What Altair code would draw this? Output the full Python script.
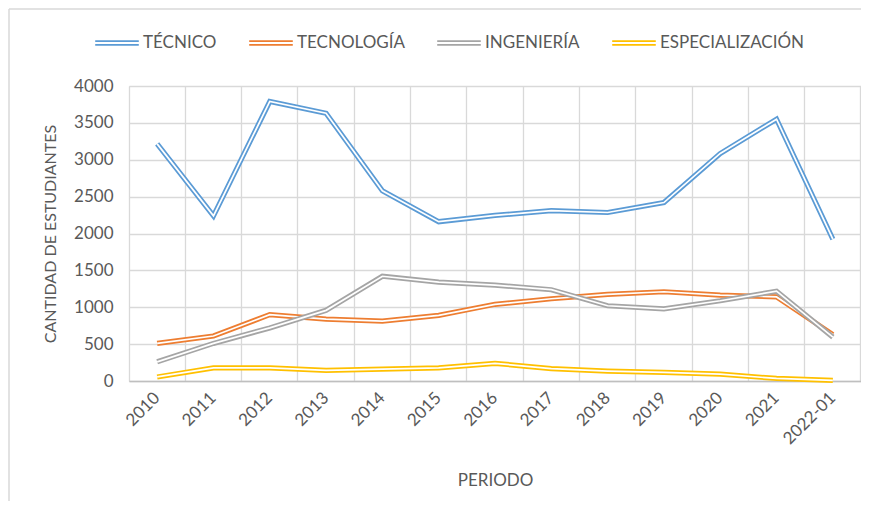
import altair as alt
import pandas as pd

periodos = ["2010", "2011", "2012", "2013", "2014", "2015", "2016",
            "2017", "2018", "2019", "2020", "2021", "2022-01"]
series = ["TÉCNICO", "TECNOLOGÍA", "INGENIERÍA", "ESPECIALIZACIÓN"]
colores = ["#5B9BD5", "#ED7D31", "#A5A5A5", "#FFC000"]

tecnico = [3215, 2240, 3790, 3630, 2580, 2160, 2245, 2310, 2285, 2420, 3085, 3550, 1925]
tecnologia = [510, 610, 900, 840, 812, 890, 1040, 1115, 1175, 1210, 1165, 1140, 630]
ingenieria = [260, 510, 720, 958, 1420, 1340, 1300, 1238, 1020, 978, 1088, 1218, 595]
especializacion = [55, 178, 178, 145, 160, 178, 240, 168, 135, 118, 92, 35, 8]

valores = [tecnico, tecnologia, ingenieria, especializacion]

rows = []
for s, vals in zip(series, valores):
    for p, v in zip(periodos, vals):
        rows.append({"periodo": p, "serie": s, "valor": v})
df = pd.DataFrame(rows)

W, H = 732, 295
FONT = "Lato"
TXT = "#595959"

x_enc = alt.X(
    "periodo:O",
    sort=periodos,
    scale=alt.Scale(type="band", domain=periodos, paddingInner=0, paddingOuter=0),
    axis=alt.Axis(
        title="PERIODO",
        labelAngle=-45,
        labelAlign="right",
        labelBaseline="middle",
        labelPadding=14,
        labelFontSize=17,
        labelColor=TXT,
        labelFont=FONT,
        ticks=False,
        bandPosition=1,
        tickExtra=True,
        grid=True,
        gridColor="#d9d9d9",
        gridWidth=1.3,
        domainColor="#bfbfbf",
        domainWidth=1.5,
        titleFont=FONT,
        titleFontSize=17,
        titleFontWeight="normal",
        titleColor=TXT,
        titleX=W / 2,
        titleY=99,
        titleAnchor="middle",
        titleBaseline="middle",
        labelOverlap=False,
    ),
)
y_enc = alt.Y(
    "valor:Q",
    scale=alt.Scale(domain=[0, 4000], nice=False),
    axis=alt.Axis(
        title="CANTIDAD DE ESTUDIANTES",
        values=list(range(0, 4001, 500)),
        format="d",
        labelFontSize=17,
        labelColor=TXT,
        labelFont=FONT,
        labelPadding=16,
        ticks=False,
        domain=False,
        grid=True,
        gridColor="#d9d9d9",
        gridWidth=1.3,
        titleFont=FONT,
        titleFontSize=16,
        titleFontWeight="normal",
        titleColor=TXT,
        titleX=-79,
        titleY=H / 2,
        titleAngle=-90,
        titleAlign="center",
        titleBaseline="middle",
    ),
)

color_scale = alt.Scale(domain=series, range=colores)
legend = alt.Legend(
    title=None,
    orient="none",
    legendX=-35,
    legendY=-66,
    direction="horizontal",
    columns=4,
    symbolType="M-1,-0.085H1M-1,0.085H1",
    symbolSize=1900,
    symbolStrokeWidth=1.8,
    labelFont=FONT,
    labelFontSize=17,
    labelColor=TXT,
    labelOffset=3,
    columnPadding=28,
)

layers = []
for s in series:
    base = alt.Chart(df).transform_filter(alt.datum.serie == s)
    layers.append(
        base.mark_line(strokeWidth=5.2, strokeJoin="miter").encode(
            x=x_enc,
            y=y_enc,
            color=alt.Color("serie:N", scale=color_scale, legend=legend, sort=series),
        )
    )
    layers.append(
        base.mark_line(strokeWidth=1.7, strokeJoin="miter", color="white").encode(
            x=x_enc,
            y=y_enc,
        )
    )

frame = pd.DataFrame({"k": [0]})
frame_top = alt.Chart(frame).mark_rule(color="#d9d9d9", strokeWidth=1.5).encode(
    x=alt.value(-120), x2=alt.value(W + 20), y=alt.value(-77)
)
frame_left = alt.Chart(frame).mark_rule(color="#d9d9d9", strokeWidth=1.5).encode(
    x=alt.value(-120), y=alt.value(-77), y2=alt.value(H + 140)
)

chart = alt.layer(frame_top, frame_left, *layers).properties(
    width=W,
    height=H,
    autosize=alt.AutoSizeParams(type="none"),
    padding={"left": 121, "top": 78, "right": 0, "bottom": 120},
).configure_view(
    stroke="#d9d9d9", strokeWidth=1.3
).configure(background="white")

chart.save("out.html", embed_options={"renderer": "svg", "actions": False})
